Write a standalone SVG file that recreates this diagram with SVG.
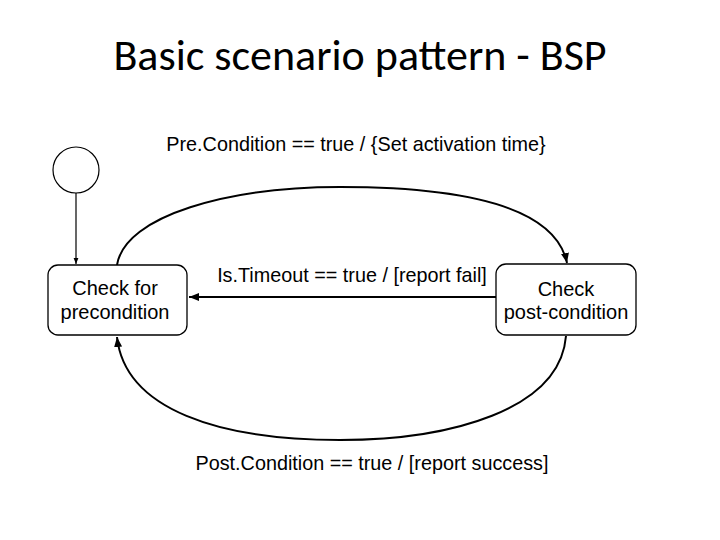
<svg xmlns="http://www.w3.org/2000/svg" width="720" height="540" viewBox="0 0 720 540">
<style>
.t{font-family:"Liberation Sans",Arial,sans-serif;font-size:20px;fill:#000}
.l{font-family:"Liberation Sans",Arial,sans-serif;font-size:19.8px;fill:#000}
.box{fill:#fff;stroke:#000;stroke-width:1.3}
.c{fill:none;stroke:#000;stroke-width:2}
</style>
<defs>
<marker id="a" viewBox="0 0 10 10" refX="10" refY="5" markerWidth="5" markerHeight="5" orient="auto"><path d="M0,1 L10,5 L0,9 z" fill="#000"/></marker>
</defs>
<rect width="720" height="540" fill="#fff"/>
<text x="360" y="70" text-anchor="middle" font-family="Carlito,'Liberation Sans',sans-serif" font-size="44">Basic scenario pattern - BSP</text>
<g id="edges">
<line x1="76" y1="193" x2="76" y2="264" stroke="#000" stroke-width="1.2" marker-end="url(#a)"/>
<path class="c" d="M117,265 C125,215 230,187 340,187 C460,187 555,205 567,263" marker-end="url(#a)"/>
<line class="c" x1="496" y1="297" x2="189" y2="297" marker-end="url(#a)"/>
<path class="c" d="M566,336 C560,410 450,440 340,440 C220,440 125,410 117,337" marker-end="url(#a)"/>
</g>
<g id="start"><circle cx="76" cy="170" r="23" fill="#fff" stroke="#000" stroke-width="1.2"/></g>
<g id="pre"><rect class="box" x="48" y="265" width="139" height="70" rx="10"/>
<text class="t" x="115" y="295" text-anchor="middle">Check for</text>
<text class="t" x="115" y="319" text-anchor="middle">precondition</text></g>
<g id="post"><rect class="box" x="496" y="264" width="140" height="71" rx="10"/>
<text class="t" x="566" y="296" text-anchor="middle">Check</text>
<text class="t" x="566" y="319" text-anchor="middle">post-condition</text></g>
<text class="l" x="356" y="151" text-anchor="middle">Pre.Condition == true / {Set activation time}</text>
<text class="l" x="352" y="282" text-anchor="middle">Is.Timeout == true / [report fail]</text>
<text class="l" x="372" y="470" text-anchor="middle">Post.Condition == true / [report success]</text>
</svg>
